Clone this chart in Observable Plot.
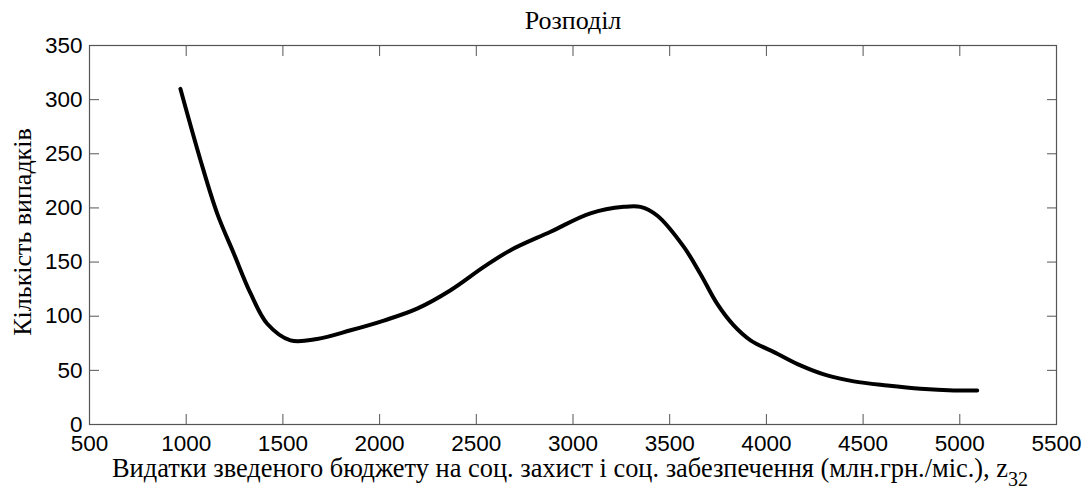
<!DOCTYPE html>
<html>
<head>
<meta charset="utf-8">
<script src="https://cdn.jsdelivr.net/npm/d3@7"></script>
<script src="https://cdn.jsdelivr.net/npm/@observablehq/plot@0.6"></script>
<style>
  html, body { margin: 0; padding: 0; background: #fff; }
  #chart svg { display: block; }
</style>
</head>
<body>
<div id="chart"></div>
<script>
const titleText = "Розподіл";
const xLabelText = "Видатки зведеного бюджету на соц. захист і соц. забезпечення (млн.грн./міс.), z";
const xLabelSub = "32";
const yLabelText = "Кількість випадків";

const xTicks = [500, 1000, 1500, 2000, 2500, 3000, 3500, 4000, 4500, 5000, 5500];
const yTicks = [0, 50, 100, 150, 200, 250, 300, 350];

const spending = [970, 1074, 1160, 1246, 1333, 1419, 1539, 1677, 1850, 2022, 2194, 2367, 2539, 2677, 2884, 3090, 3263, 3349, 3435, 3573, 3659, 3745, 3831, 3918, 4056, 4176, 4314, 4452, 4625, 4797, 4969, 5090];
const counts   = [310, 244, 195, 158, 121, 93, 77.7, 79, 87, 96, 107, 124, 145.5, 161, 178, 195, 201, 201, 193, 164, 139, 111.6, 91.5, 77.7, 65.4, 54.6, 45.3, 39.8, 36, 33, 31.4, 31.4];

const data = spending.map((x, i) => ({x, y: counts[i]}));

const axisColor = "#555";
const tickFont = "Liberation Sans, Arial, sans-serif";
const serif = "Liberation Serif, Times New Roman, serif";
const fmt = d => String(d);

const plot = Plot.plot({
  width: 1089,
  height: 498,
  marginLeft: 89,
  marginRight: 33,
  marginTop: 45,
  marginBottom: 74,
  style: {background: "#fff", color: "#000", fontFamily: tickFont, fontSize: "22px"},
  x: {domain: [500, 5500]},
  y: {domain: [0, 350]},
  marks: [
    Plot.frame({stroke: axisColor, strokeWidth: 1.2}),
    Plot.axisX(xTicks, {anchor: "bottom", tickSize: -10, text: null, stroke: axisColor, label: null}),
    Plot.axisX(xTicks, {anchor: "top", tickSize: -10, text: null, stroke: axisColor, label: null}),
    Plot.axisY(yTicks, {anchor: "left", tickSize: -10, text: null, stroke: axisColor, label: null}),
    Plot.axisY(yTicks, {anchor: "right", tickSize: -10, text: null, stroke: axisColor, label: null}),
    Plot.axisX(xTicks, {anchor: "bottom", tickSize: 0, tickPadding: 11, tickFormat: fmt, label: null, fontSize: 22.5, fill: "#000", fontFamily: tickFont}),
    Plot.axisY(yTicks, {anchor: "left", tickSize: 0, tickPadding: 7, tickFormat: fmt, label: null, fontSize: 22.5, fill: "#000", fontFamily: tickFont}),
    Plot.line(data, {x: "x", y: "y", stroke: "#000", strokeWidth: 4, curve: "catmull-rom"}),
    Plot.text([titleText], {frameAnchor: "top", lineAnchor: "bottom", dy: -17, fontFamily: serif, fontSize: 26, fill: "#000"}),
    Plot.text([xLabelText], {frameAnchor: "bottom", lineAnchor: "bottom", dy: 52, dx: -3, fontFamily: serif, fontSize: 26.4, fill: "#000"}),
    Plot.text([yLabelText], {frameAnchor: "left", textAnchor: "middle", lineAnchor: "middle", rotate: -90, dx: -67, dy: -3, fontFamily: serif, fontSize: 26, fill: "#000"})
  ]
});

d3.select(plot).selectAll("text").filter(function() { return this.textContent === xLabelText; })
  .append("tspan").attr("dy", "0.45em").attr("font-size", 20).text(xLabelSub);

document.getElementById("chart").appendChild(plot);
</script>
</body>
</html>
